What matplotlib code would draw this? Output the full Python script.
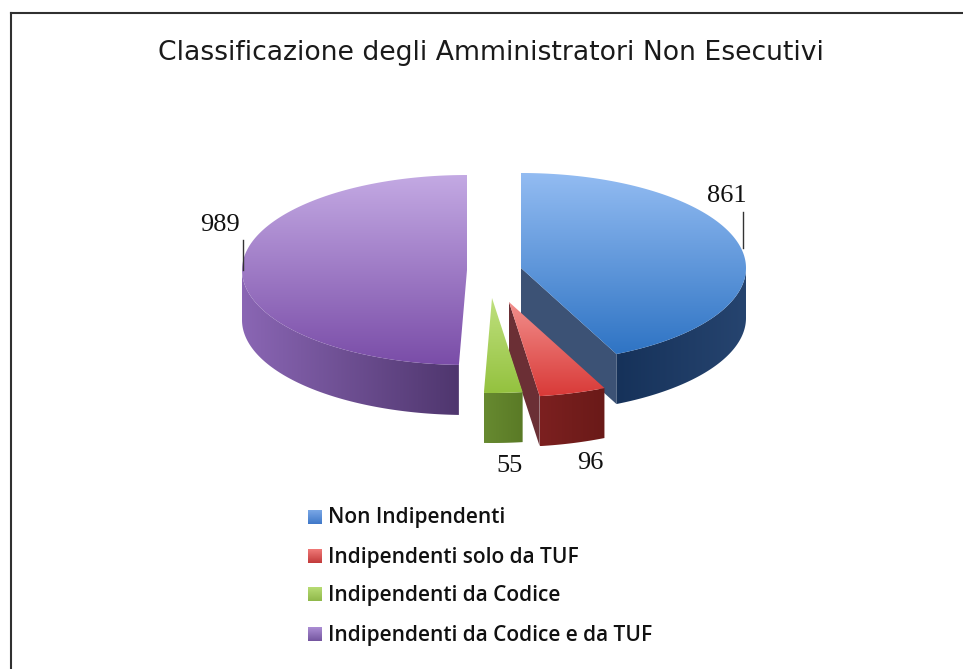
import numpy as np
import matplotlib
matplotlib.use('Agg')
import matplotlib.pyplot as plt
from matplotlib.colors import to_rgb
from matplotlib.patches import Polygon

title = 'Classificazione degli Amministratori Non Esecutivi'
categories = ['Non Indipendenti', 'Indipendenti solo da TUF', 'Indipendenti da Codice',
              'Indipendenti da Codice e da TUF']
values = [861, 96, 55, 989]

# exploded slice apex, in pixels
apex_x = [521, 509, 492, 467]
apex_y = [268, 302, 298, 270]
top_colors = [('#93bcf2', '#2f74c4'), ('#f28f8c', '#d93a38'), ('#bfe07e', '#94c23f'), ('#c3a9e3', '#7a4da8')]
side_colors = [('#16325a', '#26446f'), ('#7c2020', '#6a1a18'), ('#678a30', '#5a7a26'), ('#8a66b4', '#4f366e')]
face_colors = ['#3c5275', '#6b2f35', None, None]
legend_colors = [('#7aa7e6', '#3f78c8'), ('#f07a78', '#c23a3a'), ('#b8dc74', '#8fb84a'), ('#ab8ed4', '#74559f')]
# label text position and leader line (x, y1, y2); None = no leader
label_pos = [(727, 196), (590, 463), (509, 466), (220, 225)]
leaders = [(743, 212, 248), None, None, (243, 240, 270)]

rx, ry, depth = 225, 95, 50

fig = plt.figure(figsize=(9.63, 6.69), dpi=100)
ax = fig.add_axes([0, 0, 1, 1])
ax.set_xlim(0, 963)
ax.set_ylim(669, 0)
ax.axis('off')


def grad_fill(verts, c1, c2, horizontal=False, z=2):
    verts = np.array(verts)
    poly = Polygon(verts, closed=True, facecolor='none', edgecolor='none', zorder=z)
    ax.add_patch(poly)
    t = np.linspace(0, 1, 128)
    c1, c2 = np.array(to_rgb(c1)), np.array(to_rgb(c2))
    img = c1[None, :] * (1 - t)[:, None] + c2[None, :] * t[:, None]
    img = img[None, :, :] if horizontal else img[:, None, :]
    x0, x1 = verts[:, 0].min(), verts[:, 0].max()
    y0, y1 = verts[:, 1].min(), verts[:, 1].max()
    im = ax.imshow(img, extent=(x0, x1, y1, y0), aspect='auto', zorder=z, interpolation='bilinear')
    im.set_clip_path(poly)
    ax.set_xlim(0, 963)
    ax.set_ylim(669, 0)


def point(cx, cy, a):
    return cx + rx * np.sin(a), cy - ry * np.cos(a)


# frame: only top and left show in the crop
ax.plot([10.5, 10.5], [669, 12.5], color='#303030', lw=1.5, zorder=1)
ax.plot([10.5, 963], [12.5, 12.5], color='#303030', lw=1.5, zorder=1)

ax.text(491, 53, title, ha='center', va='center', fontsize=19.2, color='#1a1a1a', family='DejaVu Sans')

edges = np.cumsum([0] + values) / sum(values) * 2 * np.pi

# back to front: purple first, then blue, red, green
for i in [3, 0, 1, 2]:
    a0, a1 = edges[i], edges[i + 1]
    cx, cy = apex_x[i], apex_y[i]
    z = 2 + [3, 0, 1, 2].index(i) * 3
    # outer side wall, lower half of the ellipse only
    s0, s1 = max(a0, np.pi / 2), min(a1, 3 * np.pi / 2)
    if s1 > s0:
        ang = np.linspace(s0, s1, 120)
        xs, ys = point(cx, cy, ang)
        wall = list(zip(xs, ys)) + list(zip(xs[::-1], ys[::-1] + depth))
        grad_fill(wall, side_colors[i][0], side_colors[i][1], horizontal=True, z=z)
    # cut face along the end edge of the slice
    if face_colors[i]:
        ex, ey = point(cx, cy, a1)
        ax.add_patch(Polygon([(cx, cy), (ex, ey), (ex, ey + depth), (cx, cy + depth)],
                             closed=True, facecolor=face_colors[i], edgecolor='none', zorder=z + 1))
    # top surface
    ang = np.linspace(a0, a1, 200)
    xs, ys = point(cx, cy, ang)
    top = [(cx, cy)] + list(zip(xs, ys))
    grad_fill(top, top_colors[i][0], top_colors[i][1], z=z + 2)

# data labels
for v, (lx, ly), lead in zip(values, label_pos, leaders):
    ax.text(lx, ly, str(v), ha='center', va='center', fontsize=19, color='#111111',
            family='Liberation Serif', zorder=30)
    if lead:
        ax.plot([lead[0], lead[0]], [lead[1], lead[2]], color='#333333', lw=1, zorder=30)

# legend
leg_y = [517, 556, 594, 634]
for name, y, (c1, c2) in zip(categories, leg_y, legend_colors):
    grad_fill([(308, y - 7), (322, y - 7), (322, y + 7), (308, y + 7)], c1, c2, z=30)
    ax.text(328, y + 1, name, ha='left', va='center', fontsize=15, color='#111111',
            family='Open Sans', fontweight='semibold', zorder=30)

fig.savefig('out.png', dpi=100, facecolor='white')
